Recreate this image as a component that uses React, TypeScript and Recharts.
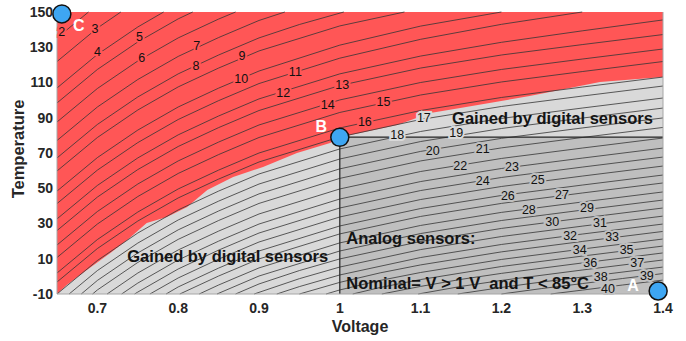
import React from 'react';
import { ComposedChart, XAxis, YAxis, Area, Line, Scatter, Label, ReferenceLine } from 'recharts';

const FONT = '"Liberation Sans", Arial, Helvetica, sans-serif';
const RED = '#ff5656';
const LIGHT = '#d9d9d9';
const DARK = '#bfbfbf';
const INK = '#262626';

const xTicks = [0.7, 0.8, 0.9, 1, 1.1, 1.2, 1.3, 1.4];
const yTicks = [-10, 10, 30, 50, 70, 90, 110, 130, 150];

// contour levels 2..40, each path as [voltage, temperature]
const contourLevels = [2, 3, 4, 5, 6, 7, 8, 9, 10, 11, 12, 13, 14, 15, 16, 17, 18, 19, 20, 21,
  22, 23, 24, 25, 26, 27, 28, 29, 30, 31, 32, 33, 34, 35, 36, 37, 38, 39, 40];

const contourPaths: [number, number][][] = [
  [[0.65, 135.3], [0.689, 150]],
  [[0.65, 121.9], [0.7, 140.9], [0.729, 150]],
  [[0.65, 106.9], [0.7, 125.9], [0.75, 141.5], [0.782, 150]],
  [[0.65, 98.4], [0.7, 117.4], [0.75, 133.0], [0.8, 146.1], [0.818, 150]],
  [[0.65, 87.6], [0.7, 106.6], [0.75, 122.2], [0.8, 135.3], [0.85, 146.0], [0.871, 150]],
  [[0.65, 77.1], [0.7, 96.1], [0.75, 111.7], [0.8, 124.8], [0.85, 135.5], [0.9, 145.2], [0.932, 150]],
  [[0.65, 67.2], [0.7, 86.2], [0.75, 101.8], [0.8, 114.9], [0.85, 125.6], [0.9, 135.3], [0.95, 142.9], [1.005, 150]],
  [[0.65, 59.8], [0.7, 78.8], [0.75, 94.4], [0.8, 107.5], [0.85, 118.2], [0.9, 127.9], [1.0, 142.1], [1.08, 150]],
  [[0.65, 48.4], [0.7, 67.4], [0.75, 83.0], [0.8, 96.1], [0.85, 106.8], [0.9, 116.5], [1.0, 131.2], [1.1, 142.0], [1.2, 150]],
  [[0.65, 41.3], [0.7, 60.3], [0.75, 75.9], [0.8, 89.0], [0.85, 99.7], [0.9, 109.4], [1.0, 123.8], [1.1, 134.5], [1.2, 143.0], [1.3, 150]],
  [[0.65, 32.6], [0.7, 51.6], [0.75, 67.2], [0.8, 80.3], [0.85, 91.0], [0.9, 100.7], [1.0, 114.9], [1.1, 125.0], [1.2, 132.8], [1.3, 139.3], [1.4, 145.5]],
  [[0.65, 26.0], [0.7, 45.0], [0.75, 60.6], [0.8, 73.7], [0.85, 84.4], [0.9, 94.1], [1.0, 108.3], [1.1, 118.2], [1.2, 125.6], [1.3, 131.5], [1.4, 137.2]],
  [[0.65, 17.8], [0.7, 36.8], [0.75, 52.4], [0.8, 65.5], [0.85, 76.2], [0.9, 85.9], [1.0, 100.1], [1.1, 110.0], [1.2, 117.4], [1.3, 123.3], [1.4, 129.0]],
  [[0.65, 10.7], [0.7, 29.7], [0.75, 45.3], [0.8, 58.4], [0.85, 69.1], [0.9, 78.8], [1.0, 93.0], [1.1, 102.9], [1.2, 110.3], [1.3, 116.2], [1.4, 121.9]],
  [[0.65, 1.9], [0.7, 20.9], [0.75, 36.5], [0.8, 49.6], [0.85, 60.3], [0.9, 70.0], [1.0, 84.2], [1.1, 94.1], [1.2, 101.5], [1.3, 107.4], [1.4, 113.1]],
  [[0.65, -3.2], [0.7, 15.8], [0.75, 31.4], [0.8, 44.5], [0.85, 55.2], [0.9, 64.9], [1.0, 79.1], [1.1, 89.0], [1.2, 96.4], [1.3, 102.3], [1.4, 108.0]],
  [[0.65, -10], [0.7, 9.0], [0.75, 24.6], [0.8, 37.7], [0.85, 48.4], [0.9, 58.1], [1.0, 72.3], [1.1, 82.2], [1.2, 89.6], [1.3, 95.5], [1.4, 101.2]],
  [[0.665, -10], [0.7, 3.3], [0.75, 18.9], [0.8, 32.0], [0.85, 42.7], [0.9, 52.4], [1.0, 66.6], [1.1, 76.5], [1.2, 83.9], [1.3, 89.8], [1.4, 95.5]],
  [[0.68, -10], [0.7, -2.3], [0.75, 13.3], [0.8, 26.4], [0.85, 37.1], [0.9, 46.8], [1.0, 61.0], [1.1, 70.9], [1.2, 78.3], [1.3, 84.2], [1.4, 89.9]],
  [[0.694, -10], [0.7, -7.7], [0.75, 7.9], [0.8, 21.0], [0.85, 31.7], [0.9, 41.4], [1.0, 55.6], [1.1, 65.5], [1.2, 72.9], [1.3, 78.8], [1.4, 84.5]],
  [[0.712, -10], [0.75, 1.9], [0.8, 15.0], [0.85, 25.7], [0.9, 35.4], [1.0, 49.6], [1.1, 59.5], [1.2, 66.9], [1.3, 72.8], [1.4, 78.5]],
  [[0.73, -10], [0.75, -3.8], [0.8, 9.3], [0.85, 20.0], [0.9, 29.7], [1.0, 43.9], [1.1, 53.8], [1.2, 61.2], [1.3, 67.1], [1.4, 72.8]],
  [[0.746, -10], [0.75, -8.9], [0.8, 4.2], [0.85, 14.9], [0.9, 24.6], [1.0, 38.8], [1.1, 48.7], [1.2, 56.1], [1.3, 62.0], [1.4, 67.7]],
  [[0.765, -10], [0.8, -0.9], [0.85, 9.8], [0.9, 19.5], [1.0, 33.7], [1.1, 43.6], [1.2, 51.0], [1.3, 56.9], [1.4, 62.6]],
  [[0.785, -10], [0.8, -6.0], [0.85, 4.7], [0.9, 14.4], [1.0, 28.6], [1.1, 38.5], [1.2, 45.9], [1.3, 51.8], [1.4, 57.5]],
  [[0.802, -10], [0.85, 0.2], [0.9, 9.9], [1.0, 24.1], [1.1, 34.0], [1.2, 41.4], [1.3, 47.3], [1.4, 53.0]],
  [[0.826, -10], [0.85, -4.9], [0.9, 4.8], [1.0, 19.0], [1.1, 28.9], [1.2, 36.3], [1.3, 42.2], [1.4, 47.9]],
  [[0.848, -10], [0.9, 0.2], [1.0, 14.4], [1.1, 24.3], [1.2, 31.7], [1.3, 37.6], [1.4, 43.3]],
  [[0.871, -10], [0.9, -4.3], [0.95, 3.3], [1.0, 9.9], [1.1, 19.8], [1.2, 27.2], [1.3, 33.1], [1.4, 38.8]],
  [[0.894, -10], [0.95, -1.3], [1.0, 5.3], [1.1, 15.2], [1.2, 22.6], [1.3, 28.5], [1.4, 34.2]],
  [[0.922, -10], [0.95, -5.8], [1.0, 0.8], [1.1, 10.7], [1.2, 18.1], [1.3, 24.0], [1.4, 29.7]],
  [[0.95, -10], [1.0, -3.4], [1.05, 2.0], [1.1, 6.5], [1.2, 13.9], [1.3, 19.8], [1.4, 25.5]],
  [[0.983, -10], [1.0, -7.7], [1.05, -2.3], [1.1, 2.2], [1.2, 9.6], [1.3, 15.5], [1.4, 21.2]],
  [[1.016, -10], [1.05, -6.3], [1.1, -1.8], [1.2, 5.6], [1.3, 11.5], [1.4, 17.2]],
  [[1.052, -10], [1.1, -5.7], [1.15, -1.7], [1.2, 1.7], [1.3, 7.6], [1.4, 13.3]],
  [[1.097, -10], [1.15, -5.7], [1.2, -2.3], [1.3, 3.6], [1.4, 9.3]],
  [[1.146, -10], [1.2, -6.3], [1.25, -3.2], [1.3, -0.4], [1.4, 5.3]],
  [[1.2, -10], [1.25, -6.9], [1.3, -4.1], [1.35, -1.2], [1.4, 1.6]],
  [[1.261, -10], [1.3, -7.8], [1.35, -4.9], [1.4, -2.1]],
];

// where the contour numbers sit
const labelV = [0.656, 0.697, 0.7, 0.752, 0.755, 0.823, 0.822, 0.879, 0.878, 0.945, 0.93, 1.003, 0.985, 1.054, 1.031, 1.104,
  1.071, 1.144, 1.115, 1.177, 1.149, 1.213, 1.177, 1.245, 1.208, 1.275, 1.234, 1.306, 1.263, 1.322, 1.285, 1.337, 1.297,
  1.355, 1.31, 1.368, 1.323, 1.38, 1.332];
const labelT = [138.7, 140.4, 127.3, 135.8, 123.9, 130.7, 119.4, 125.0, 112.0, 116.0, 104.0, 108.6, 97.2, 98.9, 87.6, 89.6,
  80.2, 81.3, 71.1, 72.3, 62.6, 62.1, 54.1, 54.7, 45.6, 46.2, 37.7, 38.8, 30.9, 30.3, 22.9, 22.3, 15.0, 15.0, 7.6, 7.6,
  -0.4, 0.2, -7.2];

// edge of the red region
const boundaryV = [0.65, 0.662, 0.687, 0.716, 0.737, 0.761, 0.786, 0.811, 0.836, 0.868, 0.905, 0.947, 0.988, 1.0,
  1.071, 1.112, 1.149, 1.235, 1.322, 1.4];
const boundaryT = [-10, -4.9, 3.6, 13.3, 20.6, 30.3, 33.7, 39.4, 49.0, 56.4, 62.1, 70.0, 75.7, 79.0, 85.9, 92.7,
  95.5, 102.3, 110.3, 113.1];

// nominal (analog) box
const nominalV = [1.0, 1.4];
const nominalTop = 79;

const noteTexts = ['Gained by digital sensors', 'Gained by digital sensors', 'Analog sensors:', 'Nominal= V > 1 V  and T < 85\u00B0C'];
const noteV = [1.139, 0.737, 1.008, 1.008];
const noteT = [86.2, 7.9, 18.1, -6.9];

const pointNames = ['C', 'B', 'A'];
const pointV = [0.656, 1.0, 1.394];
const pointT = [148.9, 78.9, -8.3];
const pointLabelV = [0.677, 0.977, 1.363];
const pointLabelT = [142.6, 85.3, -4.9];

const interp = (xs: number[], ys: number[], x: number) => {
  for (let i = 1; i < xs.length; i++) {
    if (x <= xs[i]) {
      const f = (x - xs[i - 1]) / (xs[i] - xs[i - 1]);
      return ys[i - 1] + f * (ys[i] - ys[i - 1]);
    }
  }
  return ys[ys.length - 1];
};

const regionColor = (v: number, t: number) => {
  if (v >= nominalV[0] && t <= nominalTop) return DARK;
  return t < interp(boundaryV, boundaryT, v) ? LIGHT : RED;
};

const redData = [{ v: 0.65, t: 150 }, { v: 1.4, t: 150 }];
const greyData = boundaryV.map((v, i) => ({ v, t: boundaryT[i] }));
const boxData = nominalV.map((v) => ({ v, t: nominalTop }));
const boxSide = [{ v: nominalV[0], t: -10 }, { v: nominalV[0], t: nominalTop }];
const labelData = contourLevels.map((level, i) => ({ v: labelV[i], t: labelT[i], level }));
const noteData = noteTexts.map((text, i) => ({ v: noteV[i], t: noteT[i], text }));
const pointData = pointNames.map((name, i) => ({ v: pointV[i], t: pointT[i], name }));
const letterData = pointNames.map((name, i) => ({ v: pointLabelV[i], t: pointLabelT[i], name }));

const fmt = (v: number) => String(Number(v.toFixed(1)));

const ContourLabel = (props: any) => {
  const { cx, cy, payload } = props;
  return (
    <text x={cx} y={cy} textAnchor="middle" dominantBaseline="central" fontSize={12.5}
      fontFamily={FONT} fill="#111" stroke={regionColor(payload.v, payload.t)} strokeWidth={4}
      paintOrder="stroke">
      {payload.level}
    </text>
  );
};

const Note = (props: any) => {
  const { cx, cy, payload } = props;
  return (
    <text x={cx} y={cy} fontSize={16.5} fontWeight="bold" fontFamily={FONT} fill="#141414"
      style={{ whiteSpace: 'pre' }}>
      {payload.text}
    </text>
  );
};

const Marker = (props: any) => (
  <circle cx={props.cx} cy={props.cy} r={9} fill="#3ea6f2" stroke="#111" strokeWidth={1.5} />
);

const Letter = (props: any) => (
  <text x={props.cx} y={props.cy} textAnchor="middle" dominantBaseline="central" fontSize={16}
    fontWeight="bold" fontFamily={FONT} fill="#ffffff">
    {props.payload.name}
  </text>
);

const tickStyle = { fill: INK, fontSize: 14, fontWeight: 'bold', fontFamily: FONT };
const titleStyle = { fill: INK, fontSize: 16, fontWeight: 'bold', fontFamily: FONT, textAnchor: 'middle' as const };

export default function App() {
  return (
    <div style={{ position: 'absolute', left: 0, top: 0, width: 686, height: 341, background: '#fff' }}>
      <ComposedChart width={686} height={341} margin={{ top: 12, right: 23, bottom: 0, left: 0 }}>
        <XAxis type="number" dataKey="v" domain={[0.65, 1.4]} ticks={xTicks} tickFormatter={fmt}
          tick={tickStyle} tickLine={false} tickSize={6} tickMargin={3} height={47}
          axisLine={{ stroke: '#a6a6a6' }}>
          <Label value="Voltage" position="insideBottom" offset={9} style={titleStyle} />
        </XAxis>
        <YAxis type="number" domain={[-10, 150]} ticks={yTicks} tick={tickStyle} tickLine={false}
          tickSize={2} tickMargin={2} width={57} axisLine={{ stroke: '#a6a6a6' }} />

        <Area data={redData} dataKey="t" type="linear" baseValue={-10} fill={RED} fillOpacity={1}
          stroke="none" isAnimationActive={false} />
        <Area data={greyData} dataKey="t" type="linear" baseValue={-10} fill={LIGHT} fillOpacity={1}
          stroke="none" isAnimationActive={false} />
        <Area data={boxData} dataKey="t" type="linear" baseValue={-10} fill={DARK} fillOpacity={1}
          stroke="none" isAnimationActive={false} />

        {contourPaths.map((path, i) => (
          <Line key={contourLevels[i]} data={path.map(([v, t]) => ({ v, t }))} dataKey="t" type="linear"
            stroke="#353535" strokeWidth={0.8} dot={false} activeDot={false} isAnimationActive={false} />
        ))}

        <Line data={boxData} dataKey="t" type="linear" stroke="#222" strokeWidth={1.2} dot={false}
          activeDot={false} isAnimationActive={false} />
        <Line data={boxSide} dataKey="t" type="linear" stroke="#222" strokeWidth={1.2} dot={false}
          activeDot={false} isAnimationActive={false} />
        <ReferenceLine x={1.4} stroke="#a6a6a6" />

        <Scatter data={labelData} dataKey="t" shape={ContourLabel} isAnimationActive={false} />
        <Scatter data={noteData} dataKey="t" shape={Note} isAnimationActive={false} />
        <Scatter data={pointData} dataKey="t" shape={Marker} isAnimationActive={false} />
        <Scatter data={letterData} dataKey="t" shape={Letter} isAnimationActive={false} />
      </ComposedChart>
      <svg width={40} height={341} style={{ position: 'absolute', left: 0, top: 0, pointerEvents: 'none' }}>
        <text x={18} y={149} transform="rotate(-90 18 149)" textAnchor="middle" dominantBaseline="central"
          fontSize={16.5} fontWeight="bold" fontFamily={FONT} fill={INK}>
          Temperature
        </text>
      </svg>
    </div>
  );
}
